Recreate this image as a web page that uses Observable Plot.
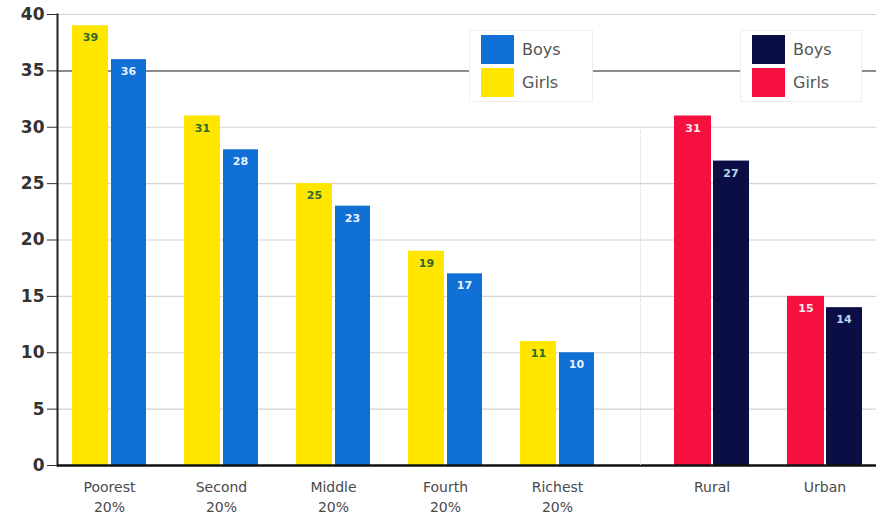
<!DOCTYPE html>
<html><head><meta charset="utf-8">
<script src="https://cdn.jsdelivr.net/npm/d3@7"></script>
<script src="https://cdn.jsdelivr.net/npm/@observablehq/plot@0.6"></script>
<style>
body{margin:0;background:#fff;font-family:"Liberation Sans",Arial,sans-serif;}
#wrap{position:relative;width:876px;height:516px;display:flex;overflow:hidden;}
#wrap svg{display:block;}
.legend{position:absolute;background:#fff;border:1px solid #eee;box-sizing:border-box;}
.legend .row{position:absolute;left:11px;display:flex;align-items:center;}
.legend .sw{width:33px;height:29px;}
.legend .lab{margin-left:8px;font-family:"DejaVu Sans",sans-serif;font-size:16px;color:#555;}
.divider{position:absolute;left:640px;top:130px;height:335px;border-left:1px dotted #d4d4d4;}
</style></head><body><div id="wrap"></div>
<script>
// ---- data ----
const quintiles = ["Poorest 20%", "Second 20%", "Middle 20%", "Fourth 20%", "Richest 20%"];
const quintileGirls = [39, 31, 25, 19, 11];
const quintileBoys = [36, 28, 23, 17, 10];
const areas = ["Rural", "Urban"];
const areaGirls = [31, 15];
const areaBoys = [27, 14];
const yTicks = [0, 5, 10, 15, 20, 25, 30, 35, 40];
const gridTicks = [5, 10, 15, 20, 25, 30, 40];
const darkGrid = [35];
const seriesNames = ["Boys", "Girls"];

const colors = {
  quintBoys: "#1170d6", quintGirls: "#ffe600",
  areaBoys: "#0b0d45", areaGirls: "#f5103f"
};

const qRows = quintiles.map((c, i) => ({cat: c, girls: quintileGirls[i], boys: quintileBoys[i]}));
const aRows = areas.map((c, i) => ({cat: c, girls: areaGirls[i], boys: areaBoys[i]}));

function barMarks(rows, girlFill, boyFill, girlText, boyText) {
  return [
    Plot.barY(rows, {x: "cat", y: "girls", fill: girlFill, insetRight: 38}),
    Plot.barY(rows, {x: "cat", y: "boys", fill: boyFill, insetLeft: 39}),
    Plot.text(rows, {x: "cat", y: "girls", text: "girls", dx: -19, dy: 12, fill: girlText, fontSize: 11, fontWeight: "bold"}),
    Plot.text(rows, {x: "cat", y: "boys", text: "boys", dx: 19, dy: 12, fill: boyText, fontSize: 11, fontWeight: "bold"})
  ];
}

const common = {
  height: 516, marginTop: 14, marginBottom: 51,
  style: {background: "transparent", fontFamily: "'DejaVu Sans', sans-serif"},
  y: {domain: [0, 40]}
};

const xAxisOpts = {tickSize: 0, tickPadding: 12, fontSize: 14, fill: "#4a4a4a", lineHeight: 1.45,
  tickFormat: d => d.replace(" ", "\n"), label: null};

const left = Plot.plot({
  ...common,
  width: 640, marginLeft: 57, marginRight: 0,
  x: {domain: quintiles, paddingInner: 0.336, paddingOuter: 0.2477, align: 0.25, label: null},
  marks: [
    Plot.ruleY(gridTicks, {stroke: "#d9d0d2", strokeWidth: 1.2}),
    Plot.ruleY(darkGrid, {stroke: "#666", strokeWidth: 1.5}),
    ...barMarks(qRows, colors.quintGirls, colors.quintBoys, "#2f6a2a", "#e8f0ff"),
    Plot.axisY({ticks: yTicks, tickSize: 10, tickPadding: 3, fontSize: 17, fontWeight: "bold", fill: "#333", stroke: "#333", label: null}),
    Plot.frame({anchor: "left", stroke: "#222", strokeWidth: 2}),
    Plot.axisX(xAxisOpts),
    Plot.ruleY([0], {stroke: "#111", strokeWidth: 2.5})
  ]
});

const right = Plot.plot({
  ...common,
  width: 236, marginLeft: 0, marginRight: 0,
  x: {domain: areas, paddingInner: 0.336, paddingOuter: 0.212, align: 0.71, label: null},
  marks: [
    Plot.ruleY(gridTicks, {stroke: "#d9d0d2", strokeWidth: 1.2}),
    Plot.ruleY(darkGrid, {stroke: "#666", strokeWidth: 1.5}),
    ...barMarks(aRows, colors.areaGirls, colors.areaBoys, "#ffe8ee", "#b8d8f0"),
    Plot.axisY({ticks: [], label: null}),
    Plot.axisX(xAxisOpts),
    Plot.ruleY([0], {stroke: "#111", strokeWidth: 2.5})
  ]
});

const wrap = document.getElementById("wrap");
wrap.appendChild(left);
wrap.appendChild(right);

const div = document.createElement("div");
div.className = "divider";
wrap.appendChild(div);

function legend(x, y, w, boyColor, girlColor) {
  const lg = document.createElement("div");
  lg.className = "legend";
  lg.style.left = x + "px"; lg.style.top = y + "px";
  lg.style.width = w + "px"; lg.style.height = "72px";
  [[seriesNames[0], boyColor, 4], [seriesNames[1], girlColor, 37]].forEach(([name, col, top]) => {
    const r = document.createElement("div");
    r.className = "row"; r.style.top = top + "px";
    r.innerHTML = `<div class="sw" style="background:${col}"></div><div class="lab">${name}</div>`;
    lg.appendChild(r);
  });
  wrap.appendChild(lg);
}
legend(469, 30, 124, colors.quintBoys, colors.quintGirls);
legend(740, 30, 122, colors.areaBoys, colors.areaGirls);
</script>
</body></html>
